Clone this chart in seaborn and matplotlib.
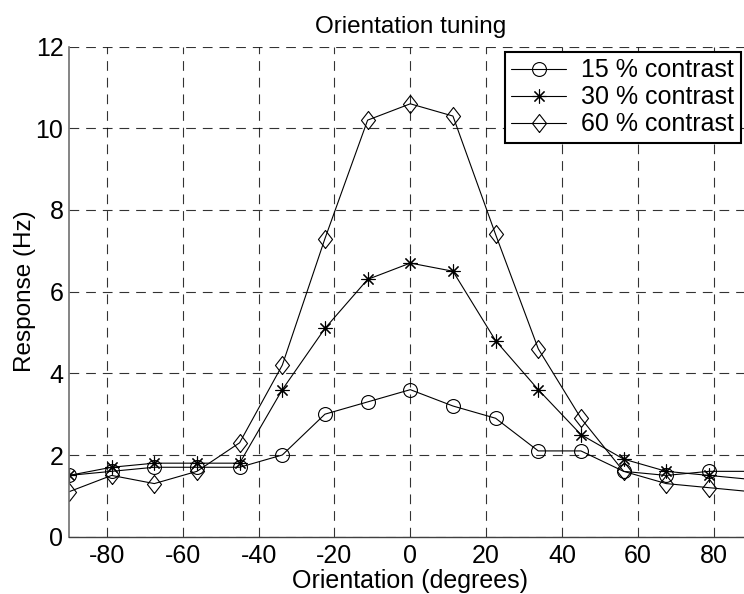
import pandas as pd
import matplotlib.pyplot as plt
import seaborn as sns

# Orientation in degrees, 16 steps of 11.25 over -90..90
orientation = [-90, -78.75, -67.5, -56.25, -45, -33.75, -22.5, -11.25, 0,
               11.25, 22.5, 33.75, 45, 56.25, 67.5, 78.75, 90]

# Responses (Hz)
resp_15 = [1.5, 1.6, 1.7, 1.7, 1.7, 2.0, 3.0, 3.3, 3.6,
           3.2, 2.9, 2.1, 2.1, 1.6, 1.5, 1.6, 1.6]
resp_30 = [1.5, 1.7, 1.8, 1.8, 1.8, 3.6, 5.1, 6.3, 6.7,
           6.5, 4.8, 3.6, 2.5, 1.9, 1.6, 1.5, 1.4]
resp_60 = [1.1, 1.5, 1.3, 1.6, 2.3, 4.2, 7.3, 10.2, 10.6,
           10.3, 7.4, 4.6, 2.9, 1.6, 1.3, 1.2, 1.1]

labels = ['15 % contrast', '30 % contrast', '60 % contrast']

df = pd.DataFrame({
    'orientation': orientation * 3,
    'response': resp_15 + resp_30 + resp_60,
    'contrast': [labels[0]] * 17 + [labels[1]] * 17 + [labels[2]] * 17,
})

sns.set_style('white')
plt.rcParams['font.family'] = ['Liberation Sans', 'DejaVu Sans']
plt.rcParams['lines.scale_dashes'] = False
plt.rcParams['axes.unicode_minus'] = False
plt.rcParams['text.color'] = 'black'
plt.rcParams['axes.labelcolor'] = 'black'
plt.rcParams['xtick.color'] = 'black'
plt.rcParams['ytick.color'] = 'black'

fig = plt.figure(figsize=(7.44, 5.94), dpi=100)
# axes run past the right edge, as in the cropped original
ax = fig.add_axes([0.0927, 0.0965, 0.9175, 0.825])

diamond = [(0, -1), (0.78, 0), (0, 1), (-0.78, 0), (0, -1)]
markers = {labels[0]: 'o', labels[1]: (8, 2, 0), labels[2]: diamond}
sizes = {labels[0]: 10, labels[1]: 10, labels[2]: 13}

handles = []
for lab in labels:
    sub = df[df['contrast'] == lab]
    sns.lineplot(data=sub, x='orientation', y='response', color='black',
                 linewidth=0.8, marker=markers[lab], markersize=sizes[lab],
                 markerfacecolor='none', markeredgecolor='black',
                 markeredgewidth=0.8, ax=ax, label=lab, legend=False)
    handles.append(ax.lines[-1])

ax.set_xlim(-90, 90)
ax.set_ylim(0, 12)
ax.set_xticks(range(-80, 81, 20))
ax.set_yticks(range(0, 13, 2))

ax.grid(True, color='black', linestyle=(0, (7, 5)), linewidth=0.8, alpha=0.8)
ax.set_axisbelow(True)
for side in ['top', 'right']:
    ax.spines[side].set_visible(False)
ax.spines['left'].set_color('#707070')
ax.spines['bottom'].set_color('#404040')
ax.spines['left'].set_linewidth(1.2)
ax.spines['bottom'].set_linewidth(1.0)
ax.tick_params(axis='both', labelsize=18, length=0)
ax.tick_params(axis='x', pad=5)
ax.tick_params(axis='y', pad=4)

ax.set_title('Orientation tuning', fontsize=17.5, pad=10)
ax.set_xlabel('Orientation (degrees)', fontsize=18, labelpad=1)
ax.set_ylabel('Response (Hz)', fontsize=17.5, labelpad=0)

leg = ax.legend(handles=handles, labels=labels, loc='upper left',
                bbox_to_anchor=(505 / 744, 1 - 52 / 594),
                bbox_transform=fig.transFigure, fontsize=18, frameon=True,
                fancybox=False, edgecolor='black', borderaxespad=0,
                handlelength=2.2, handletextpad=0.6, labelspacing=0.12,
                borderpad=0.25)
leg.get_frame().set_linewidth(1.5)
leg.get_frame().set_alpha(1)

fig.savefig('out.png', dpi=100)
